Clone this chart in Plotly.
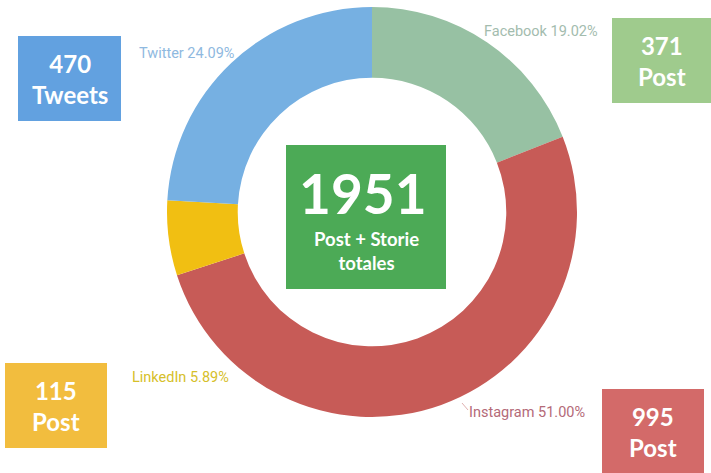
import plotly.graph_objects as go

# ---- data ----
platforms = ["Facebook", "Instagram", "LinkedIn", "Twitter"]
counts = [371, 995, 115, 470]
units = ["Post", "Post", "Post", "Tweets"]
total_label = "Post + Storie<br>totales"

slice_colors = ["#97c1a3", "#c75b57", "#f1bf12", "#76b0e2"]
label_colors = ["#a3bcae", "#b46a78", "#d6c02a", "#8fb9e0"]
box_colors = ["#9fcb8d", "#d36a69", "#f2bd3e", "#62a1e0"]

W, H = 711, 473
total = sum(counts)
pcts = [c / total * 100 for c in counts]

# layout positions (pixels)
label_pos = {"Facebook": (541, 32), "Instagram": (527, 412),
             "LinkedIn": (180, 377), "Twitter": (186, 53)}
box_pos = {"Facebook": (612, 18, 712, 103), "Instagram": (602, 389, 704, 475),
           "LinkedIn": (5, 363, 107, 448), "Twitter": (18, 36, 121, 121)}
center_box = (286, 145, 446, 289)


def px(x):
    return x / W


def py(y):
    return 1 - y / H


cx, cy, r = 372, 212, 205

fig = go.Figure()
fig.add_trace(go.Pie(
    labels=platforms, values=counts, hole=0.655, sort=False,
    direction="clockwise", rotation=0,
    marker=dict(colors=slice_colors, line=dict(width=0)),
    textinfo="none", hoverinfo="label+percent", showlegend=False,
    domain=dict(x=[px(cx - r), px(cx + r)], y=[py(cy + r), py(cy - r)]),
))

shapes = []
annotations = []
for name, cnt, unit, pct, lc, bc in zip(platforms, counts, units, pcts,
                                        label_colors, box_colors):
    x0, y0, x1, y1 = box_pos[name]
    shapes.append(dict(type="rect", xref="paper", yref="paper",
                       x0=px(x0), x1=px(x1), y0=py(y1), y1=py(y0),
                       fillcolor=bc, line=dict(width=0), layer="above"))
    annotations.append(dict(
        x=px((x0 + x1) / 2), y=py((y0 + y1) / 2), xref="paper", yref="paper",
        text=f"<b>{cnt}<br>{unit}</b>", showarrow=False,
        font=dict(family="Lato", size=24, color="white"),
        xanchor="center", yanchor="middle"))
    lx, ly = label_pos[name]
    annotations.append(dict(
        x=px(lx), y=py(ly), xref="paper", yref="paper",
        text=f"{name} {pct:.2f}%", showarrow=False,
        font=dict(family="Roboto", size=14.5, color=lc),
        xanchor="center", yanchor="middle"))

# Instagram leader line
shapes.append(dict(type="line", xref="paper", yref="paper",
                   x0=px(462), y0=py(403), x1=px(468), y1=py(410),
                   line=dict(color="#e0b0b0", width=1)))

# center box
x0, y0, x1, y1 = center_box
shapes.append(dict(type="rect", xref="paper", yref="paper",
                   x0=px(x0), x1=px(x1), y0=py(y1), y1=py(y0),
                   fillcolor="#4caa56", line=dict(width=0), layer="above"))
annotations.append(dict(
    x=px(363), y=py(193), xref="paper", yref="paper",
    text=f"<b>{total}</b>", showarrow=False,
    font=dict(family="Lato", size=55, color="white"),
    xanchor="center", yanchor="middle"))
annotations.append(dict(
    x=px(366), y=py(251), xref="paper", yref="paper",
    text=f"<b>{total_label}</b>", showarrow=False,
    font=dict(family="Lato", size=18.5, color="white"),
    xanchor="center", yanchor="middle"))

fig.update_layout(
    width=W, height=H, margin=dict(l=0, r=0, t=0, b=0),
    paper_bgcolor="white", plot_bgcolor="white",
    shapes=shapes, annotations=annotations,
)

fig.write_html("out.html")
